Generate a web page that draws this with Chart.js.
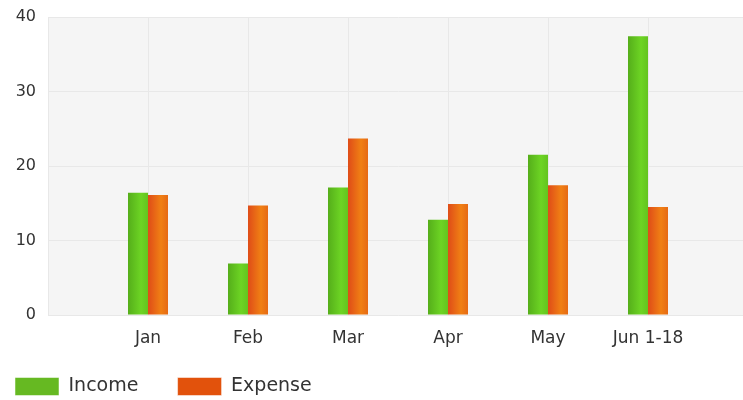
<!DOCTYPE html>
<html>
<head>
<meta charset="utf-8">
<script src="https://cdn.jsdelivr.net/npm/chart.js@4.4.1/dist/chart.umd.min.js"></script>
<style>
    html, body { margin: 0; padding: 0; background: #fff; overflow: hidden; }
    #wrap { width: 760px; height: 406px; position: relative; }
</style>
</head>
<body>
<div id="wrap"><canvas id="myChart"></canvas></div>
<script>
// chart data
var months = ['Jan', 'Feb', 'Mar', 'Apr', 'May', 'Jun 1-18'];
var income = [16.4, 6.9, 17.1, 12.8, 21.5, 37.4];
var expense = [16.1, 14.7, 23.7, 14.9, 17.4, 14.5];
var yTicks = [0, 10, 20, 30, 40];

// one empty slot each side, like the original
var labels = [''].concat(months, ['']);
var incomeData = [null].concat(income, [null]);
var expenseData = [null].concat(expense, [null]);

var greenStops = ['#55ae1a', '#6dd424', '#63c41f'];
var orangeStops = ['#df4c18', '#f08014', '#e66a15'];
var legendFill = ['#66b922', '#e2520c'];

function barFill(stops) {
    return function(context) {
        var chart = context.chart;
        var xs = chart.scales.x;
        if (context.type !== 'data' || !chart.chartArea || !xs) {
            return stops[1];
        }
        var c = xs.getPixelForValue(context.dataIndex);
        var step = xs.getPixelForValue(1) - xs.getPixelForValue(0);
        var w = step * 0.4 / 2;
        var x0 = context.datasetIndex === 0 ? c - w : c;
        if (!isFinite(x0) || !isFinite(w)) return stops[1];
        var g = chart.ctx.createLinearGradient(x0, 0, x0 + w, 0);
        g.addColorStop(0, stops[0]);
        g.addColorStop(0.65, stops[1]);
        g.addColorStop(1, stops[2]);
        return g;
    };
}

// grey plot background
var plotBg = {
    id: 'plotBg',
    beforeDraw: function(chart) {
        var a = chart.chartArea;
        var ctx = chart.ctx;
        ctx.save();
        ctx.fillStyle = '#f5f5f5';
        ctx.fillRect(a.left, a.top, a.right - a.left, a.bottom - a.top);
        ctx.restore();
    }
};

var ctx = document.getElementById('myChart').getContext('2d');
var myChart = new Chart(ctx, {
    type: 'bar',
    data: {
        labels: labels,
        datasets: [{
            label: 'Income',
            data: incomeData,
            backgroundColor: barFill(greenStops),
            borderWidth: 0,
            categoryPercentage: 0.4,
            barPercentage: 1.0
        }, {
            label: 'Expense',
            data: expenseData,
            backgroundColor: barFill(orangeStops),
            borderWidth: 0,
            categoryPercentage: 0.4,
            barPercentage: 1.0
        }]
    },
    options: {
        responsive: true,
        maintainAspectRatio: false,
        animation: false,
        layout: { padding: { top: 17, right: 12, left: 0, bottom: 0 } },
        scales: {
            x: {
                offset: false,
                grid: { color: '#e8e8e8', drawTicks: false, offset: false },
                border: { color: '#e8e8e8' },
                ticks: {
                    autoSkip: false,
                    maxRotation: 0,
                    padding: 13,
                    color: '#333',
                    font: { family: 'DejaVu Sans', size: 17 }
                },
                afterFit: function(scale) {
                    scale.height = 47;
                    scale.paddingLeft = 0;
                    scale.paddingRight = 0;
                }
            },
            y: {
                min: 0,
                max: 40,
                afterBuildTicks: function(scale) {
                    scale.ticks = yTicks.map(function(v) { return { value: v }; });
                },
                grid: { color: '#e8e8e8', drawTicks: false },
                border: { color: '#e8e8e8' },
                ticks: {
                    padding: 12,
                    color: '#333',
                    font: { family: 'DejaVu Sans', size: 16 }
                },
                afterFit: function(scale) {
                    scale.width = 48;
                    scale.paddingTop = 0;
                    scale.paddingBottom = 0;
                }
            }
        },
        plugins: {
            tooltip: { enabled: false },
            legend: {
                position: 'bottom',
                align: 'start',
                labels: {
                    boxWidth: 44,
                    boxHeight: 18,
                    padding: 15,
                    color: '#333',
                    font: { family: 'DejaVu Sans', size: 19 },
                    generateLabels: function(chart) {
                        var items = Chart.defaults.plugins.legend.labels.generateLabels(chart);
                        items.forEach(function(it, i) {
                            it.fillStyle = legendFill[i];
                            it.strokeStyle = 'rgba(255, 255, 255, 0.5)';
                            it.lineWidth = 1;
                        });
                        // wider gap between the two entries
                        items[0].text = items[0].text + '    ';
                        return items;
                    }
                }
            }
        }
    },
    plugins: [plotBg]
});
</script>
</body>
</html>
